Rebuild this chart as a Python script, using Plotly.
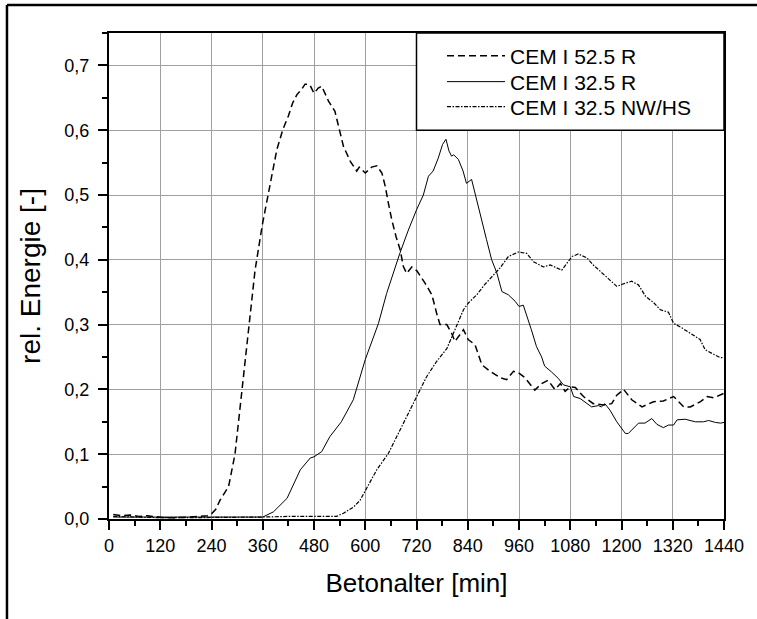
import plotly.graph_objects as go

# ---------------- data ----------------
x_525r = [10, 30, 50, 70, 90, 110, 130, 150, 170, 190, 210, 230, 240, 250, 260, 280, 295, 311, 327, 342,
          359, 373, 393, 407, 420, 430, 440, 451, 459, 467, 471, 480, 490, 498, 514, 529, 537, 549, 565, 580,
          586, 600, 615, 627, 639, 647, 654, 662, 672, 682, 689, 697, 709, 721, 740, 756, 767, 775, 791, 802,
          810, 830, 841, 857, 873, 892, 916, 931, 947, 960, 974, 997, 1013, 1028, 1044, 1057, 1068, 1080, 1092, 1111,
          1134, 1158, 1177, 1189, 1205, 1224, 1248, 1275, 1298, 1322, 1346, 1361, 1385, 1401, 1416, 1440]
y_525r = [0.007, 0.005, 0.006, 0.004, 0.005, 0.003, 0.002, 0.002, 0.002, 0.003, 0.004, 0.005, 0.008, 0.015, 0.029, 0.05, 0.1, 0.2, 0.3, 0.384,
          0.454, 0.503, 0.57, 0.601, 0.622, 0.642, 0.655, 0.663, 0.671, 0.671, 0.669, 0.657, 0.665, 0.668, 0.645, 0.629, 0.606, 0.575, 0.552, 0.537,
          0.543, 0.534, 0.543, 0.545, 0.534, 0.513, 0.488, 0.462, 0.436, 0.415, 0.39, 0.379, 0.389, 0.383, 0.364, 0.346, 0.318, 0.3, 0.3, 0.287,
          0.274, 0.292, 0.277, 0.269, 0.238, 0.228, 0.218, 0.215, 0.228, 0.225, 0.218, 0.199, 0.209, 0.214, 0.2, 0.209, 0.197, 0.204, 0.203, 0.189,
          0.178, 0.176, 0.178, 0.191, 0.2, 0.184, 0.173, 0.181, 0.182, 0.189, 0.173, 0.173, 0.181, 0.189, 0.187, 0.194]

x_325r = [10, 60, 120, 180, 240, 300, 360, 385, 417, 448, 471, 480, 498, 517, 544, 572, 600, 631, 650, 662,
          681, 701, 720, 736, 748, 759, 771, 781, 789, 796, 802, 807, 818, 829, 837, 849, 861, 872, 884, 896,
          908, 920, 935, 951, 960, 970, 989, 1001, 1013, 1020, 1036, 1052, 1064, 1080, 1088, 1103, 1130, 1146, 1153, 1161,
          1173, 1189, 1209, 1216, 1240, 1255, 1271, 1283, 1298, 1310, 1322, 1330, 1349, 1373, 1392, 1404, 1420, 1432, 1440]
y_325r = [0.003, 0.003, 0.002, 0.002, 0.002, 0.002, 0.003, 0.011, 0.032, 0.076, 0.094, 0.096, 0.104, 0.127, 0.15, 0.184, 0.246, 0.302, 0.348, 0.372,
          0.41, 0.446, 0.477, 0.5, 0.529, 0.537, 0.557, 0.578, 0.586, 0.568, 0.56, 0.562, 0.555, 0.537, 0.518, 0.524, 0.494, 0.463, 0.431, 0.4,
          0.38, 0.351, 0.346, 0.336, 0.328, 0.33, 0.292, 0.266, 0.25, 0.236, 0.227, 0.217, 0.207, 0.204, 0.189, 0.186, 0.173, 0.175, 0.173, 0.178,
          0.168, 0.15, 0.132, 0.132, 0.148, 0.148, 0.155, 0.146, 0.141, 0.145, 0.145, 0.153, 0.154, 0.15, 0.15, 0.152, 0.149, 0.148, 0.149]

x_nwhs = [10, 60, 120, 180, 240, 300, 360, 420, 480, 533, 549, 572, 588, 603, 627, 654, 681, 705, 720, 744,
          767, 791, 810, 830, 841, 861, 880, 900, 915, 935, 958, 978, 994, 1017, 1033, 1060, 1072, 1084, 1099, 1119,
          1134, 1150, 1166, 1189, 1205, 1224, 1240, 1256, 1275, 1291, 1310, 1322, 1341, 1365, 1384, 1396, 1416, 1431, 1440]
y_nwhs = [0.004, 0.003, 0.002, 0.002, 0.002, 0.002, 0.003, 0.004, 0.004, 0.004, 0.009, 0.018, 0.029, 0.047, 0.076, 0.101, 0.137, 0.168, 0.189, 0.22,
          0.243, 0.263, 0.292, 0.323, 0.333, 0.346, 0.362, 0.377, 0.387, 0.405, 0.412, 0.41, 0.397, 0.389, 0.392, 0.384, 0.395, 0.405, 0.409, 0.403,
          0.392, 0.382, 0.372, 0.359, 0.363, 0.367, 0.361, 0.344, 0.334, 0.323, 0.319, 0.302, 0.295, 0.285, 0.277, 0.261, 0.254, 0.249, 0.249]

series_names = ["CEM I 52.5 R", "CEM I 32.5 R", "CEM I 32.5 NW/HS"]
x_ticks = [0, 120, 240, 360, 480, 600, 720, 840, 960, 1080, 1200, 1320, 1440]
y_ticks = [0.0, 0.1, 0.2, 0.3, 0.4, 0.5, 0.6, 0.7]
x_title = "Betonalter [min]"
y_title = "rel. Energie [-]"

FONT = "Arial, 'Liberation Sans', sans-serif"

fig = go.Figure()
fig.add_trace(go.Scatter(x=x_525r, y=y_525r, mode="lines", name=series_names[0], legend="legend",
                         line=dict(color="black", width=1.5, dash="7px,4px")))
fig.add_trace(go.Scatter(x=x_325r, y=y_325r, mode="lines", name=series_names[1], legend="legend2",
                         line=dict(color="black", width=1)))
fig.add_trace(go.Scatter(x=x_nwhs, y=y_nwhs, mode="lines", name=series_names[2], legend="legend3",
                         line=dict(color="black", width=1.2, dash="4px,1.5px,1.5px,1.5px")))

axis_common = dict(
    showline=True, linecolor="black", linewidth=2, mirror=True,
    showgrid=True, gridcolor="#a0a0a0", gridwidth=1,
    ticks="outside", ticklen=9, tickwidth=2, tickcolor="black",
    tickfont=dict(family=FONT, size=18, color="black"),
    zeroline=False,
)

fig.update_xaxes(range=[0, 1440], tickvals=x_ticks, ticklabelstandoff=0,
                 minor=dict(dtick=60, tick0=0, ticks="outside", ticklen=5, tickwidth=2,
                            tickcolor="black", showgrid=False),
                 title=dict(text=x_title, font=dict(family=FONT, size=26, color="black"), standoff=19),
                 **axis_common)
fig.update_yaxes(range=[0, 0.75], tickvals=y_ticks, tickformat=".1f", ticklabelstandoff=5,
                 minor=dict(dtick=0.05, tick0=0, ticks="outside", ticklen=5, tickwidth=2,
                            tickcolor="black", showgrid=False),
                 title=dict(text=y_title, font=dict(family=FONT, size=28, color="black"), standoff=16),
                 **axis_common)

# legend frame (white box in upper right of the plot)
fig.add_shape(type="rect", xref="x", yref="y", x0=720, x1=1440, y0=0.6, y1=0.75,
              fillcolor="white", line=dict(color="black", width=1.5), layer="above")

# outer figure frame (left and top)
fig.add_shape(type="line", xref="paper", yref="paper", x0=-0.1659, x1=-0.1659, y0=-0.25, y1=1.0576,
              line=dict(color="black", width=2.5))
fig.add_shape(type="line", xref="paper", yref="paper", x0=-0.1659, x1=1.06, y0=1.0576, y1=1.0576,
              line=dict(color="black", width=2.5))

leg_common = dict(x=0.5415, xanchor="left", yanchor="middle",
                  bgcolor="rgba(0,0,0,0)", borderwidth=0, itemwidth=58,
                  font=dict(family=FONT, size=21, color="black"))

fig.update_layout(
    width=757, height=619,
    margin=dict(l=109, r=33, t=33, b=100),
    paper_bgcolor="white", plot_bgcolor="white",
    font=dict(family=FONT, color="black"),
    separators=", ",
    showlegend=True,
    legend=dict(y=0.9527, **leg_common),
    legend2=dict(y=0.8992, **leg_common),
    legend3=dict(y=0.8477, **leg_common),
)

fig.write_html("out.html")
